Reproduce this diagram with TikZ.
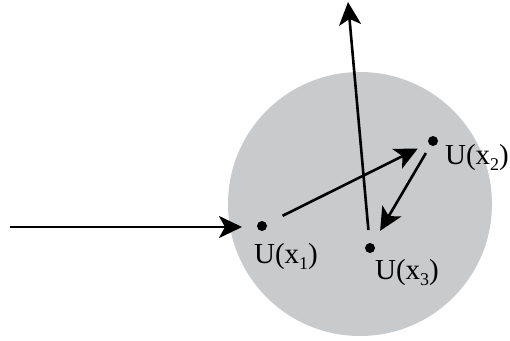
\documentclass[tikz,border=0pt]{standalone}
\usepackage{fontspec}
\setmainfont{Liberation Serif}
\usetikzlibrary{arrows.meta}
\definecolor{discgray}{RGB}{201,202,204}
\newcommand{\lowsub}[1]{\raisebox{-0.45ex}{\scalebox{0.62}{#1}}}
\begin{document}
\begin{tikzpicture}[x=1pt,y=-1pt,
  dot/.style={circle,fill=black,inner sep=0pt,minimum size=10pt},
  arr/.style={line width=2.6pt,-{Stealth[length=23pt,width=22pt,inset=6pt]}},
  lbl/.style={font=\fontsize{29}{32}\selectfont,inner sep=0pt}]
\useasboundingbox (0,0) rectangle (510,340);
\fill[discgray] (360,204) circle (132);
\node[dot] (x1) at (262,226) {};
\node[dot] (x2) at (433,141) {};
\node[dot] (x3) at (370,248) {};
\coordinate (src) at (10,227);
\coordinate (top) at (348,2);
\node[lbl] (l1) at (286,257) {U(x\lowsub{1})};
\node[lbl] (l2) at (477,158) {U(x\lowsub{2})};
\node[lbl] (l3) at (407,273) {U(x\lowsub{3})};
\draw[arr,shorten >=20pt] (src) -- (src -| x1);
\draw[arr,shorten <=23pt,shorten >=17pt] (x1.center) -- (x2.center);
\draw[arr,shorten <=14pt,shorten >=20pt] (x2.center) -- (x3.center);
\draw[arr,shorten <=18pt] (x3.center) -- (top);
\end{tikzpicture}
\end{document}
